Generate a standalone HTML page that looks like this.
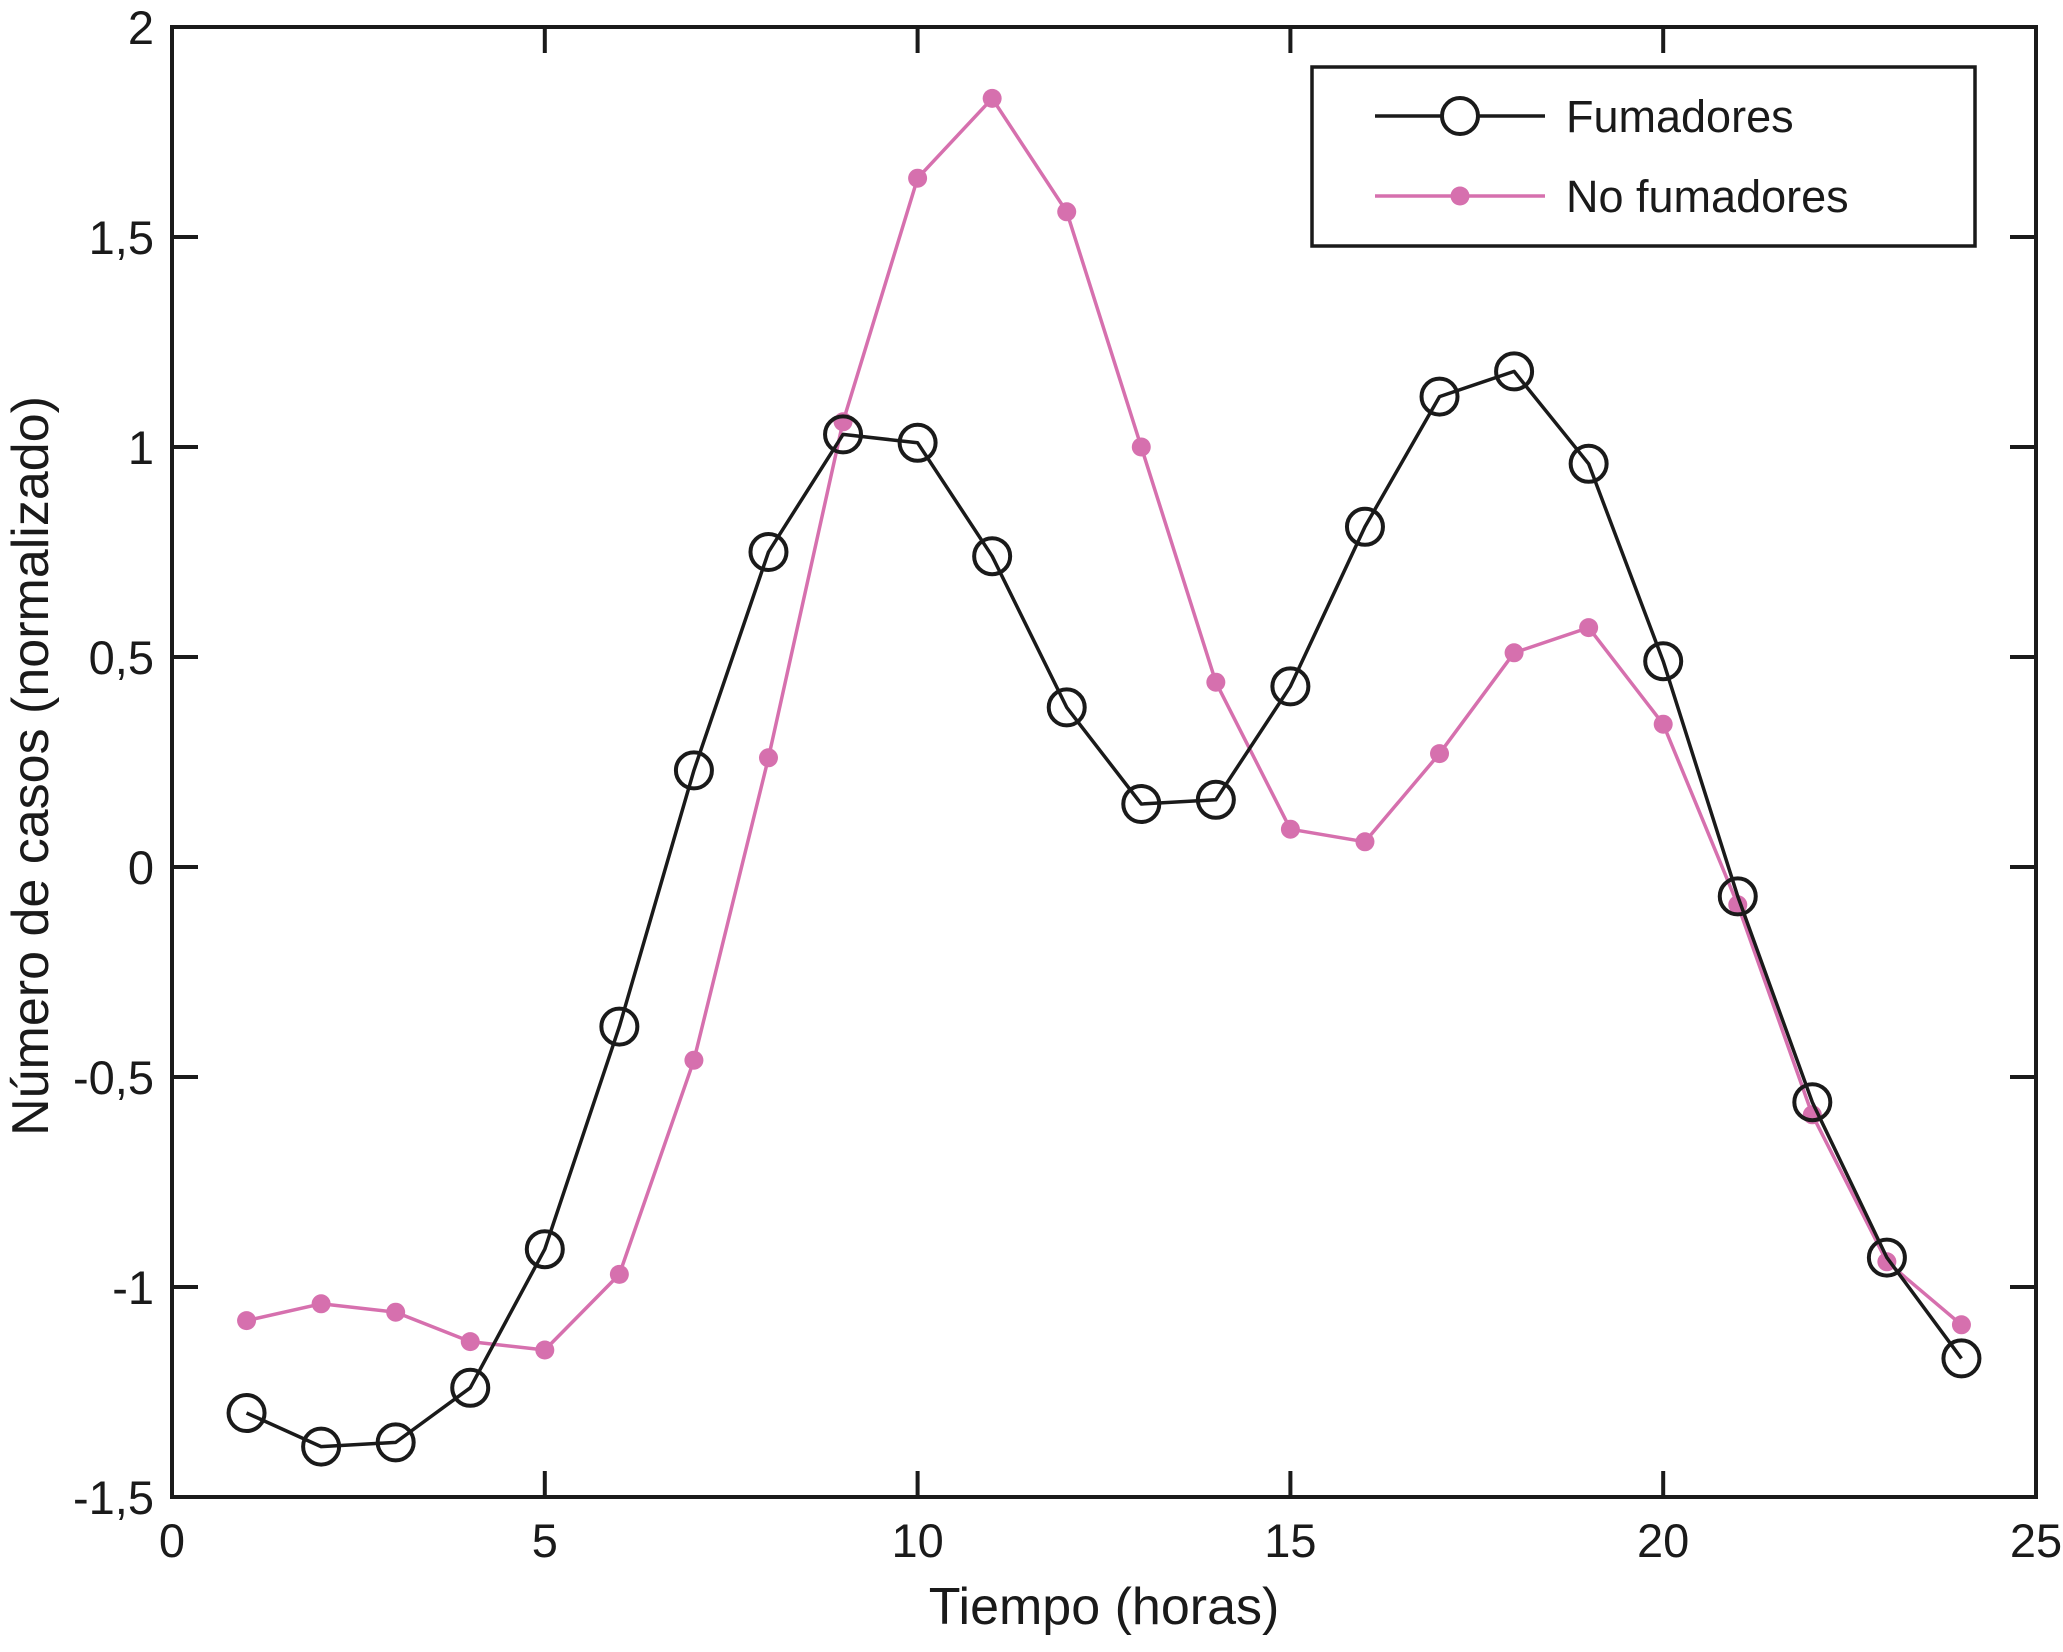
<!DOCTYPE html>
<html><head><meta charset="utf-8"><style>
html,body{margin:0;padding:0;background:#fff;}
svg{display:block;font-family:"Liberation Sans",sans-serif;}
</style></head><body>
<svg id="chart" width="2063" height="1652" viewBox="0 0 2063 1652"></svg>
<script>
const hours = [1,2,3,4,5,6,7,8,9,10,11,12,13,14,15,16,17,18,19,20,21,22,23,24];
const fumadores = [-1.30,-1.38,-1.37,-1.24,-0.91,-0.38,0.23,0.75,1.03,1.01,0.74,0.38,0.15,0.16,0.43,0.81,1.12,1.18,0.96,0.49,-0.07,-0.56,-0.93,-1.17];
const noFumadores = [-1.08,-1.04,-1.06,-1.13,-1.15,-0.97,-0.46,0.26,1.06,1.64,1.83,1.56,1.00,0.44,0.09,0.06,0.27,0.51,0.57,0.34,-0.09,-0.59,-0.94,-1.09];
const xTicks = [0,5,10,15,20,25];
const xTickLabels = ["0","5","10","15","20","25"];
const yTicks = [-1.5,-1,-0.5,0,0.5,1,1.5,2];
const yTickLabels = ["-1,5","-1","-0,5","0","0,5","1","1,5","2"];

const NS="http://www.w3.org/2000/svg";
const svg=document.getElementById('chart');
const L=172,R=2036,T=27,B=1497;
const xMin=0,xMax=25,yMin=-1.5,yMax=2;
const sx=v=>L+(v-xMin)/(xMax-xMin)*(R-L);
const sy=v=>B-(v-yMin)/(yMax-yMin)*(B-T);
function mk(tag,attrs){const e=document.createElementNS(NS,tag);for(const k in attrs)e.setAttribute(k,attrs[k]);svg.appendChild(e);return e;}

xTicks.forEach((t,i)=>{
  const x=sx(t);
  let e=mk('line',{x1:x,y1:B,x2:x,y2:B-26,stroke:'#1a1a1a','stroke-width':4});
  
  
  e=mk('line',{x1:x,y1:T,x2:x,y2:T+26,stroke:'#1a1a1a','stroke-width':4});
  
  
  const tx=mk('text',{x:x,y:1557,'font-size':47,'text-anchor':'middle',fill:'#1a1a1a'});
  tx.textContent=xTickLabels[i];
  
  
});
yTicks.forEach((t,i)=>{
  const y=sy(t);
  let e=mk('line',{x1:L,y1:y,x2:L+26,y2:y,stroke:'#1a1a1a','stroke-width':4});
  
  
  e=mk('line',{x1:R,y1:y,x2:R-26,y2:y,stroke:'#1a1a1a','stroke-width':4});
  
  
  const tx=mk('text',{x:154,y:y+17,'font-size':47,'text-anchor':'end',fill:'#1a1a1a'});
  tx.textContent=yTickLabels[i];
  
  
});
let frame=mk('rect',{x:L,y:T,width:R-L,height:B-T,fill:'none',stroke:'#1a1a1a','stroke-width':4});



const pink='#d670ae';
let pl=mk('polyline',{points:hours.map((h,i)=>sx(h)+','+sy(noFumadores[i])).join(' '),fill:'none',stroke:pink,'stroke-width':3.5,'stroke-linejoin':'round'});


hours.forEach((h,i)=>{
  const c=mk('circle',{cx:sx(h),cy:sy(noFumadores[i]),r:9.5,fill:pink});
  
  
});
pl=mk('polyline',{points:hours.map((h,i)=>sx(h)+','+sy(fumadores[i])).join(' '),fill:'none',stroke:'#1a1a1a','stroke-width':3.5,'stroke-linejoin':'round'});


hours.forEach((h,i)=>{
  const c=mk('circle',{cx:sx(h),cy:sy(fumadores[i]),r:18,fill:'none',stroke:'#1a1a1a','stroke-width':4});
  
  
});

const lg=mk('rect',{x:1312,y:67,width:663,height:179,fill:'#fff',stroke:'#1a1a1a','stroke-width':3.5});


let e=mk('line',{x1:1375,y1:116,x2:1545,y2:116,stroke:'#1a1a1a','stroke-width':3.5});


e=mk('circle',{cx:1460,cy:116,r:18,fill:'#fff',stroke:'#1a1a1a','stroke-width':4});


e=mk('text',{x:1566,y:132,'font-size':45,fill:'#1a1a1a'});e.textContent='Fumadores';


e=mk('line',{x1:1375,y1:196,x2:1545,y2:196,stroke:pink,'stroke-width':3.5});


e=mk('circle',{cx:1460,cy:196,r:9.5,fill:pink});


e=mk('text',{x:1566,y:212,'font-size':45,fill:'#1a1a1a'});e.textContent='No fumadores';



e=mk('text',{x:(L+R)/2,y:1624,'font-size':52,'text-anchor':'middle',fill:'#1a1a1a'});e.textContent='Tiempo (horas)';


e=mk('text',{x:0,y:0,'font-size':52,'text-anchor':'middle',fill:'#1a1a1a',transform:'translate(48,766) rotate(-90)'});e.textContent='Número de casos (normalizado)';


</script>
</body></html>
